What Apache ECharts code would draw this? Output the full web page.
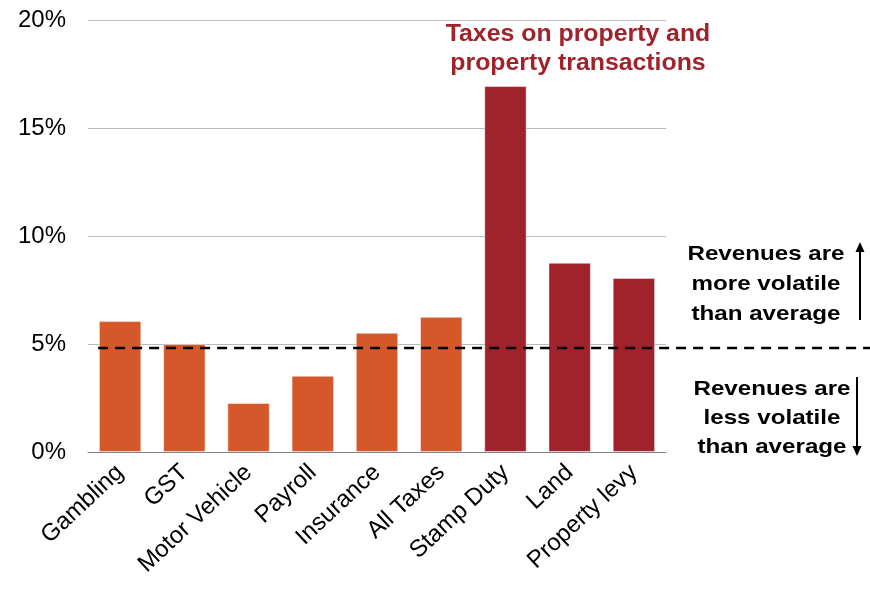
<!DOCTYPE html>
<html><head><meta charset="utf-8">
<script src="https://cdn.jsdelivr.net/npm/echarts@6/dist/echarts.min.js"></script>
<style>html,body{margin:0;padding:0;background:#fff}#c{width:870px;height:589px}</style>
</head><body><div id="c"></div>
<script>
const categories = ['Gambling','GST','Motor Vehicle','Payroll','Insurance','All Taxes','Stamp Duty','Land','Property levy'];
const volatility = [6.06, 5.0, 2.27, 3.53, 5.52, 6.26, 16.94, 8.76, 8.06];
const propertyFlags = [false,false,false,false,false,false,true,true,true];
const averageVolatility = 4.82;
const yTicks = [0,5,10,15,20];

const ORANGE = '#d5582b', DARKRED = '#a0222a';
const font = '"Liberation Sans", Arial, Helvetica, sans-serif';
const chart = echarts.init(document.getElementById('c'));
chart.setOption({
  animation:false,
  grid:{left:88,right:204,top:20,bottom:137},
  xAxis:{type:'category',data:categories,
    axisLine:{lineStyle:{color:'#808080',width:1}},
    axisTick:{length:9,lineStyle:{color:'#707070'}},
    axisLabel:{rotate:43,color:'#000',fontFamily:font,fontSize:24,margin:17,interval:0}},
  yAxis:{type:'value',min:yTicks[0],max:yTicks[yTicks.length-1],interval:5,
    axisLine:{show:false},axisTick:{show:false},
    axisLabel:{formatter:'{value}%',color:'#000',fontFamily:font,fontSize:24,margin:22},
    splitLine:{lineStyle:{color:'#b4bcc4',width:1}}},
  series:[{type:'bar',barCategoryGap:'34%',
    data:volatility.map((v,i)=>({value:v,itemStyle:{color:propertyFlags[i]?DARKRED:ORANGE}})),
    itemStyle:{borderColor:'rgba(255,255,255,0.45)',borderWidth:1}}]
});
const yAvg = chart.convertToPixel({yAxisIndex:0}, averageVolatility);
const x0 = chart.convertToPixel({xAxisIndex:0}, 0) - 22;
function btext(x,y,txt,lh,size,sx,color){
  return {type:'text',x:x,y:y,scaleX:sx,originX:0,originY:0,
    style:{text:txt,x:0,y:0,fontFamily:font,fontSize:size,fontWeight:'bold',fill:color||'#000',
      textAlign:'center',textVerticalAlign:'top',lineHeight:lh}};
}
function arrowUp(x,y1,y2){return [
  {type:'line',shape:{x1:x,y1:y1,x2:x,y2:y2+8},style:{stroke:'#000',lineWidth:2}},
  {type:'polygon',shape:{points:[[x-4.5,y2+10],[x+4.5,y2+10],[x,y2]]},style:{fill:'#000'}}];}
function arrowDown(x,y1,y2){return [
  {type:'line',shape:{x1:x,y1:y1,x2:x,y2:y2-8},style:{stroke:'#000',lineWidth:2}},
  {type:'polygon',shape:{points:[[x-4.5,y2-10],[x+4.5,y2-10],[x,y2]]},style:{fill:'#000'}}];}
chart.setOption({graphic:[
  {type:'line',shape:{x1:x0,y1:yAvg,x2:870,y2:yAvg},style:{stroke:'#000',lineWidth:2.5,lineDash:[10,7]},z:10},
  btext(578,20,'Taxes on property and\nproperty transactions',29,23,1.08,DARKRED),
  btext(766,239,'Revenues are\nmore volatile\nthan average',30,21,1.15),
  btext(772,375,'Revenues are\nless volatile\nthan average',29,21,1.15),
  ...arrowUp(860,320,242),
  ...arrowDown(857,377,456)
]});
</script></body></html>
